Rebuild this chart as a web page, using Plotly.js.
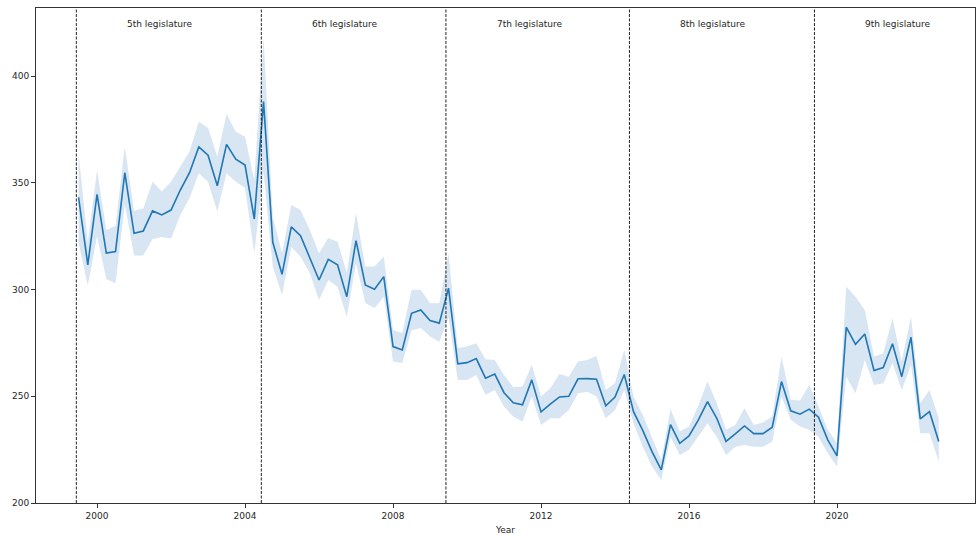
<!DOCTYPE html>
<html>
<head>
<meta charset="utf-8">
<script src="https://cdn.plot.ly/plotly-3.0.1.min.js"></script>
<style>html,body{margin:0;padding:0;background:#fff;}#chart{width:976px;height:536px;}</style>
</head>
<body>
<div id="chart"></div>
<script>
// Quarterly series, first quarter = 1999 Q3 (decimal year 1999.5)
const firstQuarter = 1999.5;

const meanValues = [343.3, 311.6, 344.7, 317.1, 317.8, 354.8, 326.4, 327.5, 336.9, 335.0, 337.3, 346.7, 354.8, 366.9, 363.0, 348.7, 368.1, 361.1, 358.4, 333.1, 388.1,
  322.2, 307.2, 329.4, 325.3, 315.0, 304.5, 314.2, 311.6, 296.7, 323.0, 302.2, 300.2, 306.1, 273.3, 271.7, 288.9, 290.5, 285.5, 284.3, 300.7,
  265.2, 265.8, 267.7, 258.5, 260.4, 251.7, 247.0, 246.0, 257.7, 242.7, 246.3, 249.7, 250.0, 258.2, 258.3, 258.0, 245.6, 249.7, 260.2, 242.8,
  234.0, 224.1, 215.5, 236.7, 228.0, 231.4, 238.8, 247.5, 239.7, 228.9, 232.4, 236.1, 232.5, 232.5, 235.5, 256.9, 243.2, 241.6, 244.0, 240.2, 229.6, 222.1,
  282.4, 274.4, 279.2, 262.1, 263.5, 274.6, 259.2, 277.7, 239.4, 242.8, 228.8];

const upperValues = [364, 322, 356, 328, 330, 367, 337, 338, 350.6, 346, 350.6, 357.6, 364.7, 378.7, 375.7, 362.3, 382.3, 374, 371.7, 351.4, 418,
  334, 317, 339.7, 337.3, 328, 317, 324.2, 322.5, 307.8, 335.9, 310.8, 310.8, 315.5, 281, 279.7, 299.9, 299.9, 293.6, 293.6, 317,
  272.5, 273.3, 274.9, 267.4, 267, 260, 254.3, 254.6, 264.7, 249.9, 253.8, 260.5, 259.2, 266.3, 267, 268.9, 253, 256.1, 271.7, 249.9,
  241.3, 231.1, 220.2, 244, 233.5, 235.8, 245.6, 256.9, 246.8, 234.3, 236.6, 244.4, 236.6, 237.7, 240.5, 268.6, 248.3, 248, 255.3, 245.2, 234.3, 228,
  301.4, 296.7, 290.5, 268.6, 270.2, 286.6, 266.3, 287.3, 246.8, 253, 239.7];

const lowerValues = [322, 302, 325, 305, 303, 340, 316, 316, 323.7, 324.7, 324, 335, 343, 354.6, 350.6, 336.6, 354.6, 350.6, 347.6, 317.2, 355,
  310.8, 297.5, 320, 315.5, 307.8, 295.2, 304.5, 301.4, 287.3, 312.5, 293.7, 291.4, 296.7, 266.3, 265.6, 281, 282, 278, 275.6, 287,
  257.7, 257.7, 260, 250.7, 253, 245.2, 240.5, 238.2, 249.9, 236.6, 239.7, 239.7, 243.6, 251.4, 252.2, 249.9, 239.7, 243.6, 253, 237.4,
  226.4, 217.1, 210.8, 231.1, 222.5, 224.9, 231.1, 237.4, 231.1, 222.5, 226.4, 227.2, 226.4, 226.4, 228.8, 249.9, 239, 235.8, 234.3, 231.1, 223.3, 217.1,
  259.2, 251.4, 267, 255.3, 256.1, 265.5, 253, 264.7, 232.7, 232.7, 219.4];

const legislatureStarts = [1999.44, 2004.44, 2009.43, 2014.39, 2019.39];
const legislatureLabels = ["5th legislature", "6th legislature", "7th legislature", "8th legislature", "9th legislature"];
const xTickValues = [2000, 2004, 2008, 2012, 2016, 2020];
const yTickValues = [200, 250, 300, 350, 400];

const xs = meanValues.map((_, i) => firstQuarter + i * 0.25);

const font = {family: "DejaVu Sans, sans-serif", size: 9, color: "#262626"};

const traces = [
  {x: xs, y: upperValues, mode: "lines", line: {width: 0, color: "rgba(0,0,0,0)"}, hoverinfo: "skip", showlegend: false},
  {x: xs, y: lowerValues, mode: "lines", line: {width: 0, color: "rgba(0,0,0,0)"}, fill: "tonexty", fillcolor: "rgb(216,229,242)", hoverinfo: "skip", showlegend: false},
  {x: xs, y: meanValues, mode: "lines", line: {width: 1.6, color: "#1f77b4"}, showlegend: false}
];

const shapes = legislatureStarts.map(s => ({
  type: "line", xref: "x", yref: "paper", x0: s, x1: s, y0: 0, y1: 1,
  line: {color: "#222", width: 1, dash: "3px,1.5px"}
}));

const annotations = legislatureStarts.map((s, i) => ({
  x: s + 2.26, y: 424.7, xref: "x", yref: "y", text: legislatureLabels[i],
  showarrow: false, font: font, xanchor: "center", yanchor: "middle"
}));

const layout = {
  width: 976, height: 536,
  margin: {l: 36, r: 1, t: 8, b: 33},
  paper_bgcolor: "#fff", plot_bgcolor: "#fff",
  font: font,
  xaxis: {
    range: [1998.35, 2023.73], tickvals: xTickValues, ticktext: xTickValues.map(String),
    showgrid: false, zeroline: false, showline: true, mirror: true, linecolor: "#333", linewidth: 1,
    ticks: "outside", ticklen: 4, tickcolor: "#333", tickfont: font,
    title: {text: "Year", font: font, standoff: 6}
  },
  yaxis: {
    range: [200, 432], tickvals: yTickValues, ticktext: yTickValues.map(String),
    showgrid: false, zeroline: false, showline: true, mirror: true, linecolor: "#333", linewidth: 1,
    ticks: "outside", ticklen: 4, tickcolor: "#333", tickfont: font
  },
  shapes: shapes,
  annotations: annotations
};

Plotly.newPlot("chart", traces, layout, {displayModeBar: false, staticPlot: true});
</script>
</body>
</html>
